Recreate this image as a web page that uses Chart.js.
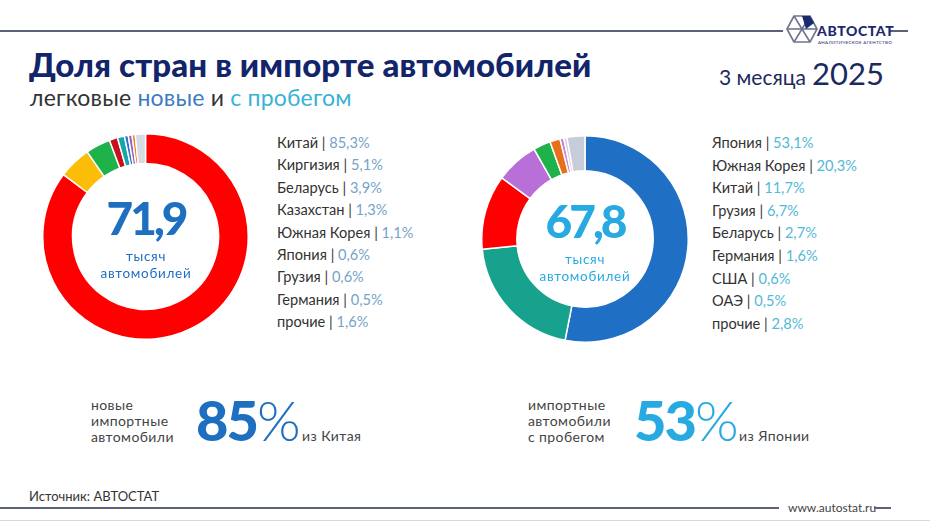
<!DOCTYPE html>
<html><head><meta charset="utf-8">
<script src="https://cdn.jsdelivr.net/npm/chart.js@4.4.0/dist/chart.umd.min.js"></script>
<style>
body{margin:0;width:930px;height:525px;background:#fff;position:relative;overflow:hidden;font-family:Lato,'Noto Sans',sans-serif;color:#333;}
.abs{position:absolute;white-space:nowrap;}
.line{position:absolute;height:1.5px;background:#5b6178;}
#title{left:29px;top:44px;font-size:33px;font-weight:900;color:#12246a;letter-spacing:0.1px;}
#sub{left:30px;top:83px;font-size:23px;color:#333;letter-spacing:0.2px;}
.c1{color:#3d7cc0}.c2{color:#38b2d6}
#period{left:719px;top:54px;font-size:21px;color:#1b2a5e;}
#period b{font-size:31px;font-weight:400;margin-left:6px;}
.leg{font-size:14.6px;line-height:18px;color:#333;}
.legL .v{color:#76a3c9}.legR .v{color:#52b9d8}
.ctr{text-align:center;width:180px;}
.num{font-size:46px;font-weight:900;letter-spacing:-3px;line-height:46px;}
.unit{font-size:13.5px;line-height:17px;letter-spacing:0.7px;}
.small{font-size:14px;line-height:16px;color:#444;letter-spacing:0.4px;}
.big{font-size:56px;line-height:56px;font-weight:900;letter-spacing:-2px;}
.big span{font-weight:300;letter-spacing:0;}
</style></head><body>
<div class="line" style="left:0;top:30px;width:783px"></div>
<div class="line" style="left:890px;top:30px;width:18px"></div>
<svg class="abs" style="left:786px;top:14px" width="32" height="30" viewBox="0 0 32 30">
  <g fill="none" stroke="#6d7590" stroke-width="1.6" stroke-linejoin="round">
    <polygon points="8,2 24,2 31,15 24,28 8,28 1,15"/>
    <line x1="8" y1="2" x2="24" y2="28"/><line x1="24" y1="2" x2="8" y2="28"/><line x1="1" y1="15" x2="31" y2="15"/>
  </g>
  <polygon points="16,2 24,2 28,9 20,15" fill="#1b2a6e"/>
</svg>
<div class="abs" style="left:817px;top:23px;font-size:14px;line-height:16px;font-weight:900;color:#1b2a6e;letter-spacing:0.6px">АВТОСТАТ</div>
<div class="abs" style="left:818px;top:40px;font-size:4.5px;line-height:5px;color:#1b2a6e;letter-spacing:0.3px">АНАЛИТИЧЕСКОЕ АГЕНТСТВО</div>

<div id="title" class="abs">Доля стран в импорте автомобилей</div>
<div id="sub" class="abs">легковые <span class="c1">новые</span> и <span class="c2">с пробегом</span></div>
<div id="period" class="abs">3 месяца<b>2025</b></div>

<canvas id="cNew" class="abs" style="left:42px;top:133px" width="207" height="207"></canvas>
<canvas id="cUsed" class="abs" style="left:481px;top:135px" width="208" height="208"></canvas>

<div id="ctrNew" class="abs ctr" style="left:56px;top:195px;color:#1f6fc1"></div>
<div id="ctrUsed" class="abs ctr" style="left:495px;top:198px;color:#27aae1"></div>

<div id="legNew" class="legL"></div>
<div id="legUsed" class="legR"></div>

<div class="abs small" style="left:91px;top:397px">новые</div>
<div class="abs small" style="left:91px;top:413px">импортные</div>
<div class="abs small" style="left:91px;top:429px">автомобили</div>
<div class="abs big" style="left:196px;top:392px;color:#1f6fc1">85<span>%</span></div>
<div class="abs small" style="left:302px;top:428px">из Китая</div>

<div class="abs small" style="left:528px;top:397px">импортные</div>
<div class="abs small" style="left:528px;top:413px">автомобили</div>
<div class="abs small" style="left:528px;top:429px">с пробегом</div>
<div class="abs big" style="left:634px;top:392px;color:#27aae1">53<span>%</span></div>
<div class="abs small" style="left:739px;top:428px">из Японии</div>

<div class="abs" style="left:29px;top:488px;font-size:13px;color:#333">Источник: АВТОСТАТ</div>
<div class="line" style="left:0;top:507px;width:779px"></div>
<div class="abs" style="left:788px;top:500px;font-size:12px;color:#444">www.autostat.ru</div>
<div class="line" style="left:874px;top:507px;width:17px"></div>
<div class="abs" style="left:0;top:520px;width:930px;height:1px;background:#d8d8d8"></div>

<script>
// ---- data ----
const newCountries = ['Китай','Киргизия','Беларусь','Казахстан','Южная Корея','Япония','Грузия','Германия','прочие'];
const newShares    = [85.3, 5.1, 3.9, 1.3, 1.1, 0.6, 0.6, 0.5, 1.6];
const newColors    = ['#ff0000','#fbbd08','#1fb24a','#c8101e','#16a5a8','#2d74c8','#9b5fc0','#e8801e','#d6dae2'];
const newTotal     = '71,9';

const usedCountries = ['Япония','Южная Корея','Китай','Грузия','Беларусь','Германия','США','ОАЭ','прочие'];
const usedShares    = [53.1, 20.3, 11.7, 6.7, 2.7, 1.6, 0.6, 0.5, 2.8];
const usedColors    = ['#1f6fc5','#17a28e','#ff0000','#b86fd8','#1fb24a','#e8701a','#c48ad6','#dcc6ea','#c6ccd8'];
const usedTotal     = '67,8';
const unitLines     = ['тысяч','автомобилей'];

const fmt = v => v.toFixed(1).replace('.', ',') + '%';

function donut(id, labels, values, colors, cutout){
  new Chart(document.getElementById(id), {
    type: 'doughnut',
    data: { labels: labels, datasets: [{ data: values, backgroundColor: colors, borderColor: '#ffffff', borderWidth: 1.5 }] },
    options: {
      responsive: false, animation: false, cutout: cutout,
      layout: { padding: 0 },
      plugins: { legend: { display: false }, tooltip: { enabled: false } }
    }
  });
}
donut('cNew', newCountries, newShares, newColors, '71%');
donut('cUsed', usedCountries, usedShares, usedColors, '66%');

function center(id, total){
  const el = document.getElementById(id);
  el.innerHTML = '<div class="num">' + total + '</div><div class="unit" style="margin-top:7px">' + unitLines[0] + '</div><div class="unit">' + unitLines[1] + '</div>';
}
center('ctrNew', newTotal);
center('ctrUsed', usedTotal);

function legend(id, labels, values, x, y0, step){
  const box = document.getElementById(id);
  labels.forEach((l, i) => {
    const d = document.createElement('div');
    d.className = 'abs leg';
    d.style.left = x + 'px';
    d.style.top = (y0 + i * step - 9) + 'px';
    d.innerHTML = l + ' | <span class="v">' + fmt(values[i]) + '</span>';
    box.appendChild(d);
  });
}
legend('legNew', newCountries, newShares, 277, 143, 22.4);
legend('legUsed', usedCountries, usedShares, 712, 143, 22.6);
</script>
</body></html>
